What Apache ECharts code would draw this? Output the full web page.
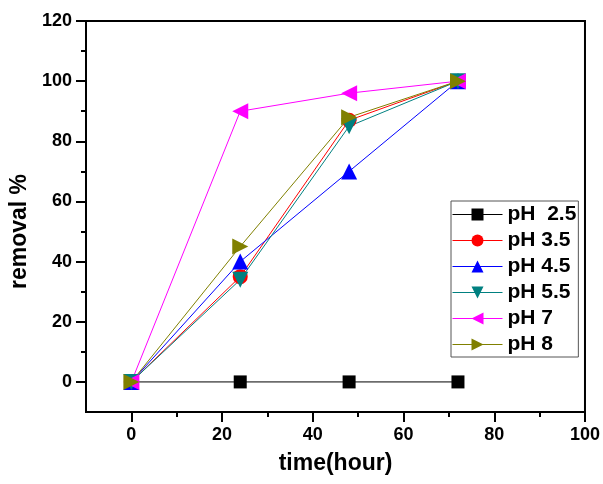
<!DOCTYPE html>
<html>
<head>
<meta charset="utf-8">
<script src="https://cdn.jsdelivr.net/npm/echarts@6/dist/echarts.min.js"></script>
<style>
  html, body { margin: 0; padding: 0; background: #fff; }
  #chart { width: 603px; height: 484px; }
</style>
</head>
<body>
<div id="chart"></div>
<script>
// time points (hours)
const hours = [0, 24, 48, 72];

// removal % for each pH
const ph25 = [0, 0, 0, 0];
const ph35 = [0, 35, 87, 100];
const ph45 = [0, 40, 70, 100];
const ph55 = [0, 34, 85, 100];
const ph7 = [0, 90, 96, 100];
const ph8 = [0, 45, 88, 100];

const seriesNames = ['pH  2.5', 'pH 3.5', 'pH 4.5', 'pH 5.5', 'pH 7', 'pH 8'];

// tick positions
const xMajor = [0, 20, 40, 60, 80, 100];
const xMinor = [10, 30, 50, 70, 90];
const yMajor = [0, 20, 40, 60, 80, 100, 120];
const yMinor = [10, 30, 50, 70, 90, 110];

const myChart = echarts.init(document.getElementById('chart'));

const font = 'Arial, "Liberation Sans", sans-serif';

function makeSeries(name, values, color, symbol, size, rotate) {
  return {
    name: name,
    type: 'line',
    data: hours.map((h, i) => [h, values[i]]),
    symbol: symbol,
    symbolSize: size,
    symbolRotate: rotate,
    showAllSymbol: true,
    lineStyle: { color: color, width: 1 },
    itemStyle: { color: color }
  };
}

const option = {
  animation: false,
  grid: {
    left: 86, right: 17, top: 21, bottom: 72,
    show: true,
    borderColor: '#000',
    borderWidth: 2
  },
  legend: {
    data: seriesNames,
    orient: 'vertical',
    left: 451,
    top: 201,
    width: 130,
    padding: [3, 2, 2, 1],
    itemWidth: 50,
    itemHeight: 15,
    itemGap: 5,
    borderColor: '#555',
    borderWidth: 1,
    backgroundColor: '#fff',
    lineStyle: { width: 1 },
    textStyle: {
      fontFamily: font,
      fontWeight: 'bold',
      fontSize: 21,
      lineHeight: 21,
      color: '#000'
    }
  },
  xAxis: [
    {
      type: 'value',
      min: -10,
      max: 100,
      name: 'time(hour)',
      nameLocation: 'middle',
      nameGap: 40,
      nameTextStyle: { fontFamily: font, fontWeight: 'bold', fontSize: 23, color: '#000' },
      axisLine: { show: true, onZero: false, lineStyle: { color: '#000', width: 2 } },
      axisTick: { show: true, inside: false, customValues: xMajor, length: 10, lineStyle: { color: '#000', width: 2 } },
      axisLabel: { customValues: xMajor, fontFamily: font, fontWeight: 'bold', fontSize: 18, color: '#000', margin: 14 },
      splitLine: { show: false }
    },
    {
      type: 'value',
      position: 'bottom',
      min: -10,
      max: 100,
      axisLine: { show: false, onZero: false },
      axisTick: { show: true, inside: false, customValues: xMinor, length: 5, lineStyle: { color: '#000', width: 2 } },
      axisLabel: { show: false },
      splitLine: { show: false }
    }
  ],
  yAxis: [
    {
      type: 'value',
      min: -10,
      max: 120,
      name: 'removal %',
      nameLocation: 'middle',
      nameGap: 50,
      nameTextStyle: { fontFamily: font, fontWeight: 'bold', fontSize: 23, color: '#000', padding: [0, 30, 0, 0] },
      axisLine: { show: true, onZero: false, lineStyle: { color: '#000', width: 2 } },
      axisTick: { show: true, inside: false, customValues: yMajor, length: 10, lineStyle: { color: '#000', width: 2 } },
      axisLabel: { customValues: yMajor, fontFamily: font, fontWeight: 'bold', fontSize: 18, color: '#000', margin: 14 },
      splitLine: { show: false }
    },
    {
      type: 'value',
      position: 'left',
      min: -10,
      max: 120,
      axisLine: { show: false, onZero: false },
      axisTick: { show: true, inside: false, customValues: yMinor, length: 5, lineStyle: { color: '#000', width: 2 } },
      axisLabel: { show: false },
      splitLine: { show: false }
    }
  ],
  series: [
    makeSeries(seriesNames[0], ph25, '#000000', 'rect', 13, 0),
    makeSeries(seriesNames[1], ph35, '#ff0000', 'circle', 15, 0),
    makeSeries(seriesNames[2], ph45, '#0000ff', 'triangle', 16, 0),
    makeSeries(seriesNames[3], ph55, '#008080', 'triangle', 16, 180),
    makeSeries(seriesNames[4], ph7, '#ff00ff', 'triangle', 16, 90),
    makeSeries(seriesNames[5], ph8, '#808000', 'triangle', 16, -90)
  ]
};

myChart.setOption(option);
</script>
</body>
</html>
